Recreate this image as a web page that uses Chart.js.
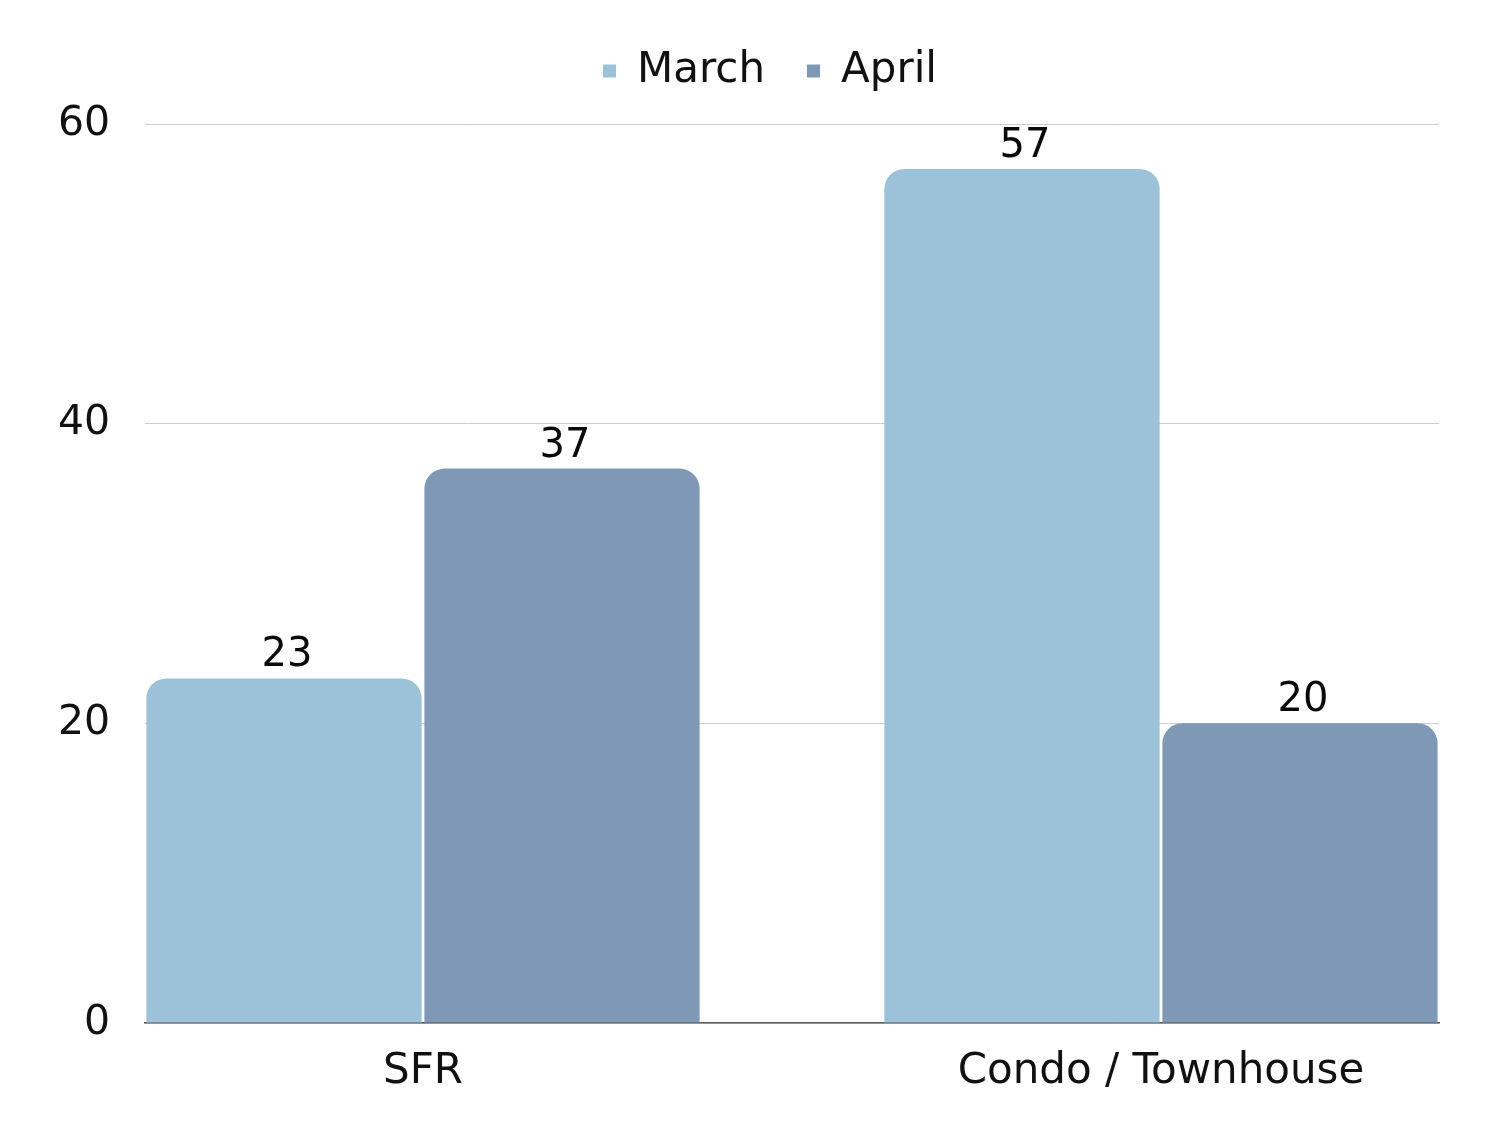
<!DOCTYPE html>
<html>
<head>
<meta charset="utf-8">
<script src="https://cdn.jsdelivr.net/npm/chart.js@4.4.1/dist/chart.umd.min.js"></script>
<style>
  html, body { margin: 0; padding: 0; background: #ffffff; }
  #wrap { width: 1500px; height: 1125px; }
</style>
</head>
<body>
<div id="wrap"><canvas id="c" width="1500" height="1125"></canvas></div>
<script>
const categories = ["SFR", "Condo / Townhouse"];
const seriesNames = ["March", "April"];
const marchValues = [23, 57];
const aprilValues = [37, 20];
const yTicks = [0, 20, 40, 60];

const FONT = "'DejaVu Sans', sans-serif";

const valueLabels = {
  id: 'valueLabels',
  afterDatasetsDraw(chart) {
    const ctx = chart.ctx;
    ctx.save();
    ctx.fillStyle = '#0a0a0a';
    ctx.font = "40px " + FONT;
    ctx.textAlign = 'center';
    ctx.textBaseline = 'alphabetic';
    chart.data.datasets.forEach((ds, di) => {
      const meta = chart.getDatasetMeta(di);
      meta.data.forEach((bar, i) => {
        ctx.fillText(String(ds.data[i].y), bar.x + 3, bar.y - 12);
      });
    });
    ctx.restore();
  }
};

const toPoints = arr => arr.map((v, i) => ({ x: i, y: v }));

new Chart(document.getElementById('c'), {
  type: 'bar',
  data: {
    datasets: [
      {
        label: seriesNames[0],
        data: toPoints(marchValues),
        backgroundColor: '#9bc2d8',
        borderRadius: { topLeft: 20, topRight: 20, bottomLeft: 0, bottomRight: 0 },
        borderSkipped: 'start',
        categoryPercentage: 0.7534,
        barPercentage: 0.99
      },
      {
        label: seriesNames[1],
        data: toPoints(aprilValues),
        backgroundColor: '#7f98b5',
        borderRadius: { topLeft: 20, topRight: 20, bottomLeft: 0, bottomRight: 0 },
        borderSkipped: 'start',
        categoryPercentage: 0.7534,
        barPercentage: 0.99
      }
    ]
  },
  options: {
    responsive: false,
    animation: false,
    layout: { padding: { top: 8, left: 101, right: 61, bottom: 0 } },
    plugins: {
      tooltip: { enabled: false },
      title: {
        display: true,
        text: '',
        position: 'top',
        weight: 500,
        font: { size: 1, lineHeight: 1 },
        padding: { top: 0, bottom: 21 }
      },
      legend: {
        position: 'top',
        labels: {
          boxWidth: 13,
          boxHeight: 13,
          padding: 42,
          color: '#111111',
          font: { family: FONT, size: 42 }
        }
      }
    },
    scales: {
      x: {
        type: 'linear',
        offset: false,
        min: -0.3767,
        max: 1.3767,
        afterBuildTicks(scale) {
          scale.ticks = categories.map((c, i) => ({ value: i }));
        },
        afterFit(scale) { scale.height = 102; },
        ticks: {
          callback: (v, i) => categories[i],
          color: '#111111',
          font: { family: FONT, size: 42 },
          padding: 24,
          maxRotation: 0,
          autoSkip: false
        },
        grid: { display: false, drawTicks: false, offset: false },
        border: { display: true, color: '#5a5a5a', width: 1.5 }
      },
      y: {
        min: 0,
        max: 60,
        afterBuildTicks(scale) {
          scale.ticks = yTicks.map(v => ({ value: v }));
        },
        afterFit(scale) { scale.width = 44; },
        ticks: {
          color: '#111111',
          font: { family: FONT, size: 41 },
          mirror: true,
          crossAlign: 'far',
          padding: -87
        },
        grid: { color: '#cccccc', lineWidth: 1, drawTicks: false },
        border: { display: false }
      }
    }
  },
  plugins: [valueLabels]
});
</script>
</body>
</html>
